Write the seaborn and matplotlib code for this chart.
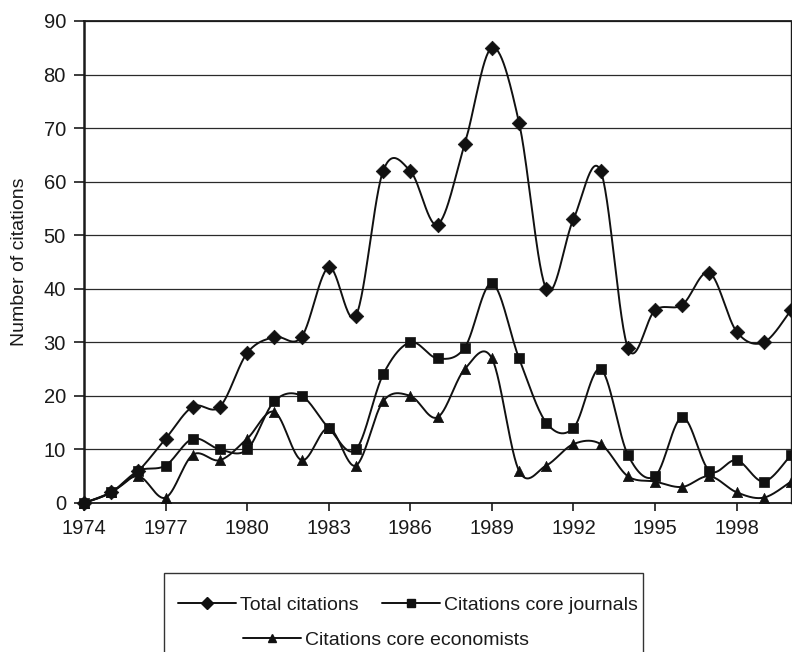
import numpy as np
import pandas as pd
import matplotlib
matplotlib.use("Agg")
import matplotlib.pyplot as plt
from matplotlib.lines import Line2D
from matplotlib.patches import Rectangle
import seaborn as sns

years = list(range(1974, 2001))
total = [0, 2, 6, 12, 18, 18, 28, 31, 31, 44, 35, 62, 62, 52, 67, 85, 71, 40, 53, 62, 29, 36, 37, 43, 32, 30, 36]
journals = [0, 2, 6, 7, 12, 10, 10, 19, 20, 14, 10, 24, 30, 27, 29, 41, 27, 15, 14, 25, 9, 5, 16, 6, 8, 4, 9]
economists = [0, 2, 5, 1, 9, 8, 12, 17, 8, 14, 7, 19, 20, 16, 25, 27, 6, 7, 11, 11, 5, 4, 3, 5, 2, 1, 4]
series_names = ["Total citations", "Citations core journals", "Citations core economists"]
xtick_years = list(range(1974, 2000, 3))
yticks = list(range(0, 100, 10))

sns.set_theme(style="white")
plt.rcParams['font.family'] = ['Liberation Sans', 'DejaVu Sans']

FS = 14
TFS = 14.5


def smooth(x, y, n=30):
    x = np.asarray(x, float)
    y = np.asarray(y, float)
    px = np.concatenate([[x[0]], x, [x[-1]]])
    py = np.concatenate([[y[0]], y, [y[-1]]])
    xs, ys = [], []
    t = np.linspace(0, 1, n, endpoint=False)
    for i in range(1, len(px) - 2):
        p0x, p1x, p2x, p3x = px[i - 1], px[i], px[i + 1], px[i + 2]
        p0y, p1y, p2y, p3y = py[i - 1], py[i], py[i + 1], py[i + 2]
        b1x = p1x + (p2x - p0x) / 6
        b1y = p1y + (p2y - p0y) / 6
        b2x = p2x - (p3x - p1x) / 6
        b2y = p2y - (p3y - p1y) / 6
        bx = (1 - t) ** 3 * p1x + 3 * (1 - t) ** 2 * t * b1x + 3 * (1 - t) * t ** 2 * b2x + t ** 3 * p2x
        by = (1 - t) ** 3 * p1y + 3 * (1 - t) ** 2 * t * b1y + 3 * (1 - t) * t ** 2 * b2y + t ** 3 * p2y
        xs.append(bx)
        ys.append(by)
    xs.append([x[-1]])
    ys.append([y[-1]])
    return np.concatenate(xs), np.concatenate(ys)


fig = plt.figure(figsize=(7.92, 6.52), dpi=100)
ax = fig.add_axes([84 / 792, 1 - 503 / 652, (791 - 84) / 792, (503 - 21) / 652])

markers = ["D", "s", "^"]
msizes = [55, 50, 55]
data = [total, journals, economists]
for name, vals, m, s in zip(series_names, data, markers, msizes):
    sx, sy = smooth(years, vals)
    dense = pd.DataFrame({"year": sx, "value": sy})
    sns.lineplot(data=dense, x="year", y="value", ax=ax, color="#111111", lw=1.4,
                 sort=False, estimator=None, clip_on=False, zorder=3)
    pts = pd.DataFrame({"year": years, "value": vals})
    sns.scatterplot(data=pts, x="year", y="value", ax=ax, marker=m, s=s, color="#111111",
                    edgecolor="#111111", linewidth=0.5, clip_on=False, zorder=4)

ax.set_xlim(1974, 2000)
ax.set_ylim(0, 90)
ax.set_xticks(xtick_years)
ax.set_xticklabels([str(y) for y in xtick_years])
ax.set_yticks(yticks)
ax.yaxis.grid(True, color="#2a2a2a", lw=0.9)
ax.set_axisbelow(True)
ax.set_xlabel("")
ax.set_ylabel("Number of citations", fontsize=FS, color="#1a1a1a")
ax.yaxis.set_label_coords(-0.079, 0.5)
ax.tick_params(axis="both", labelsize=TFS, colors="#1a1a1a", direction="out", width=1.2,
               bottom=True, left=True)
ax.tick_params(axis="x", length=5.5, pad=6)
ax.tick_params(axis="y", length=7.5, pad=5.5)
for side, sp in ax.spines.items():
    sp.set_color("#1a1a1a")
    sp.set_linewidth(1.3)
ax.spines["left"].set_linewidth(1.8)
ax.spines["right"].set_linewidth(1.0)

# legend
fig.patches.append(Rectangle((164 / 792, -0.05), (643 - 164) / 792, (652 - 573) / 652 + 0.05,
                             transform=fig.transFigure, fill=False, edgecolor="#333333", lw=1.0))
h = [Line2D([], [], color="#111111", lw=1.4, marker=m, markersize=ms)
     for m, ms in zip(markers, [6, 6, 6])]
leg1 = fig.legend(h[:2], series_names[:2], loc="center", bbox_to_anchor=(408 / 792, 1 - 605 / 652),
                  ncol=2, frameon=False, fontsize=FS, handlelength=3.0, handletextpad=0.2,
                  columnspacing=1.2, borderpad=0)
leg2 = fig.legend(h[2:], series_names[2:], loc="center", bbox_to_anchor=(386 / 792, 1 - 640 / 652),
                  ncol=1, frameon=False, fontsize=FS, handlelength=3.0, handletextpad=0.2,
                  borderpad=0)
for leg in (leg1, leg2):
    for t in leg.get_texts():
        t.set_color("#1a1a1a")

fig.savefig("out.png", dpi=100)
